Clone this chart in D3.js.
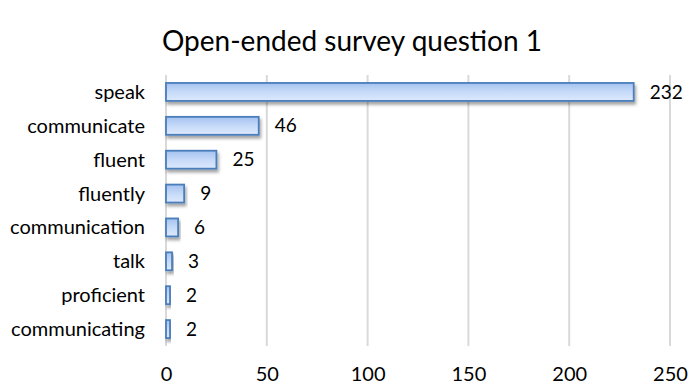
<!DOCTYPE html>
<html>
<head>
<meta charset="utf-8">
<script src="https://cdn.jsdelivr.net/npm/d3@7"></script>
<style>
  html, body { margin: 0; padding: 0; background: #fff; }
  svg { display: block; }
  text { font-family: Lato, "Open Sans", sans-serif; fill: #000; }
</style>
</head>
<body>
<svg id="chart" width="689" height="386"></svg>
<script>
const title = "Open-ended survey question 1";
const categories = ["speak", "communicate", "fluent", "fluently", "communication", "talk", "proficient", "communicating"];
const values = [232, 46, 25, 9, 6, 3, 2, 2];
const xTicks = [0, 50, 100, 150, 200, 250];

(function () {
const svg = d3.select("#chart");
const mLeft = 166, mRight = 670, mTop = 75, mBottom = 346;

const x = d3.scaleLinear().domain([0, 250]).range([mLeft, mRight]);
const y = d3.scaleBand().domain(categories).range([mTop, mBottom]).paddingInner(0.47).paddingOuter(0.235);

const defs = svg.append("defs");
const grad = defs.append("linearGradient").attr("id", "barGrad").attr("x1", 0).attr("y1", 0).attr("x2", 0).attr("y2", 1);
grad.append("stop").attr("offset", "0%").attr("stop-color", "#a4c2ef");
grad.append("stop").attr("offset", "50%").attr("stop-color", "#c6daf8");
grad.append("stop").attr("offset", "100%").attr("stop-color", "#dde9fc");
const f = defs.append("filter").attr("id", "shadow").attr("x", "-10%").attr("y", "-40%").attr("width", "130%").attr("height", "200%");
f.append("feDropShadow").attr("dx", 1.5).attr("dy", 3).attr("stdDeviation", 1.5).attr("flood-color", "#000").attr("flood-opacity", 0.35);

// title
svg.append("text").attr("x", 352).attr("y", 51).attr("text-anchor", "middle")
  .style("font-size", "28px").text(title);

// gridlines
svg.append("g").selectAll("line").data(xTicks).join("line")
  .attr("x1", d => x(d)).attr("x2", d => x(d))
  .attr("y1", mTop).attr("y2", mBottom)
  .attr("stroke", "#d9d9d9").attr("stroke-width", 2);

// x axis labels
const xAxis = d3.axisBottom(x).tickValues(xTicks).tickSize(0).tickPadding(0);
const gx = svg.append("g").attr("transform", `translate(0,${mBottom})`).call(xAxis);
gx.select(".domain").remove();
gx.selectAll("text").attr("dy", null).attr("y", 35).style("font-size", "20px").style("font-family", "Lato, sans-serif").attr("fill", "#000");

// y axis labels
const yAxis = d3.axisLeft(y).tickSize(0).tickPadding(21);
const gy = svg.append("g").attr("transform", `translate(${mLeft},0)`).call(yAxis);
gy.select(".domain").remove();
gy.selectAll("text").style("font-size", "20px").style("font-family", "Lato, sans-serif").attr("fill", "#000").attr("dy", "0.35em");

// bars
svg.append("g").selectAll("rect").data(values).join("rect")
  .attr("x", x(0))
  .attr("y", (d, i) => y(categories[i]))
  .attr("width", d => x(d) - x(0))
  .attr("height", y.bandwidth())
  .attr("fill", "url(#barGrad)")
  .attr("stroke", "#4a7ebb").attr("stroke-width", 1.8)
  .attr("filter", "url(#shadow)");

// value labels
svg.append("g").selectAll("text").data(values).join("text")
  .attr("x", d => x(d) + 16)
  .attr("y", (d, i) => y(categories[i]) + y.bandwidth() / 2)
  .attr("dy", "0.35em")
  .style("font-size", "19px")
  .text(d => d);
})();
</script>
</body>
</html>
